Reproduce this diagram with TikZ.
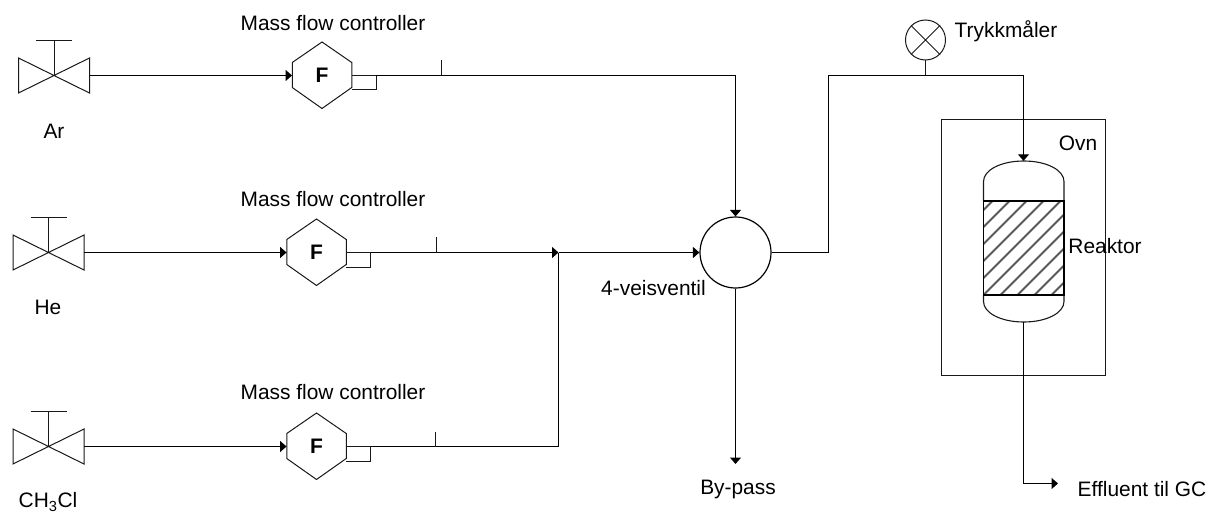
\documentclass[tikz,border=0pt]{standalone}
\usepackage{fontspec}
\setmainfont{Liberation Sans}
\usetikzlibrary{arrows.meta}
\tikzset{
  x=1pt,y=-1pt,
  pipe/.style={line width=1.25pt,draw=black},
  thin line/.style={line width=1pt,draw=black!90},
  flow/.style={pipe,-{Triangle[length=6.5pt,width=11pt]}},
  lbl/.style={font=\fontsize{20.9}{24}\selectfont,inner sep=0pt},
  valvebox/.style={minimum width=71pt,minimum height=35pt,inner sep=0pt},
  hexbox/.style={minimum width=59.5pt,minimum height=66pt,inner sep=0pt,font=\fontsize{21}{24}\selectfont\bfseries}
}
\newcommand{\valvesym}[2]{%
  \draw[thin line,shift={(#1,#2)}] (-35.5,-17.5)--(35.5,17.5)--(35.5,-17.5)--(-35.5,17.5)--cycle;
  \draw[thin line,shift={(#1,#2)}] (0,0)--(0,-35) (-18,-35)--(18,-35);
}
\newcommand{\hexsym}[2]{%
  \draw[thin line,shift={(#1,#2)}] (0,-33.5)--(29.75,-13)--(29.75,12)--(0,33)--(-29.75,12)--(-29.75,-13)--cycle;
  \draw[thin line,shift={(#1,#2)}] (29.75,0)--(54,0)--(54,14.5)--(29.75,14.5);
}
\begin{document}
\begin{tikzpicture}
\useasboundingbox (0,0) rectangle (1207,513);
% oven
\node[draw=black!90,line width=1pt,minimum width=163.5pt,minimum height=255pt,inner sep=0pt] (ovn) at (1023.25,247.5) {};
% valves
\valvesym{54}{75.5}
\valvesym{48.5}{252.5}
\valvesym{48.5}{446.5}
\node[valvebox] (v1) at (54,75.5) {};
\node[valvebox] (v2) at (48.5,252.5) {};
\node[valvebox] (v3) at (48.5,446.5) {};
% mass flow controllers
\hexsym{322}{75.5}
\hexsym{316.5}{252.5}
\hexsym{316.5}{446.5}
\node[hexbox] (f1) at (322,75.5) {F};
\node[hexbox] (f2) at (316.5,252.5) {F};
\node[hexbox] (f3) at (316.5,446.5) {F};
% four-way valve
\node[circle,draw=black,line width=1.2pt,minimum size=71pt,inner sep=0pt] (w) at (735.5,252.5) {};
% pressure gauge
\node[circle,draw=black!90,line width=1pt,minimum size=40pt,inner sep=0pt] (p) at (925.5,40) {};
\draw[thin line] (p.north west)--(p.south east) (p.north east)--(p.south west);
% reactor
\node[minimum width=80.5pt,minimum height=161pt,inner sep=0pt] (r) at (1023.5,241.5) {};
\begin{scope}
  \clip (983.5,201) rectangle (1064,295);
  \foreach \k in {-6,...,12} {
    \draw[line width=2pt,draw=black!65] (983.5+\k*17,295)--(983.5+\k*17+94,201);
  }
\end{scope}
\draw[thin line,line width=1.1pt] (983.5,201)--(983.5,181.5) .. controls (983.5,170) and (1001,161) .. (1023.75,161) .. controls (1046.5,161) and (1064,170) .. (1064,181.5)--(1064,201);
\draw[thin line,line width=1.1pt] (983.5,295)--(983.5,301.5) .. controls (983.5,313) and (1001,322) .. (1023.75,322) .. controls (1046.5,322) and (1064,313) .. (1064,301.5)--(1064,295);
\draw[line width=1.1pt,draw=black] (983.5,201) rectangle (1064,295);
% junctions
\coordinate (c1) at (735.5,75.5);
\coordinate (t1) at (441.5,75.5);
\coordinate (t1top) at (441.5,60);
\coordinate (t2) at (436.5,252.5);
\coordinate (t2top) at (436.5,237);
\coordinate (t3) at (435.5,446.5);
\coordinate (t3top) at (435.5,432);
\coordinate (s1) at (376,75.5);
\coordinate (s2) at (370.5,252.5);
\coordinate (s3) at (370.5,446.5);
\coordinate (j) at (558.5,252.5);
\coordinate (j3) at (558.5,446.5);
\coordinate (a) at (828.5,252.5);
\coordinate (b) at (828.5,75.5);
\coordinate (g) at (925.5,75.5);
\coordinate (d) at (1023.5,75.5);
\coordinate (bp) at (735.5,464);
\coordinate (e1) at (1023.5,483.5);
\coordinate (e2) at (1058,483.5);
% connectors
\draw[flow] (v1.east) -- (f1.west);
\draw[flow] (v2.east) -- (f2.west);
\draw[flow] (v3.east) -- (f3.west);
\draw[flow] (s1) -- (c1) -- (w.north);
\draw[flow] (s2) -- (j);
\draw[flow] (j) -- (w.west);
\draw[pipe] (s3) -- (j3) -- (j);
\draw[thin line] (t1) -- (t1top);
\draw[thin line] (t2) -- (t2top);
\draw[thin line] (t3) -- (t3top);
\draw[pipe] (w.east) -- (a) -- (b) -- (g);
\draw[flow] (g) -- (d) -- (r.north);
\draw[thin line] (p.south) -- (g);
\draw[flow] (w.south) -- (bp);
\draw[flow] (r.south) -- (e1) -- (e2);
% labels
\node[lbl] (m1) at (333,23.5) {Mass flow controller};
\node[lbl] (m2) at (333,199.5) {Mass flow controller};
\node[lbl] (m3) at (333,392) {Mass flow controller};
\node[lbl] (l1) at (54,131) {Ar};
\node[lbl] (l2) at (48,307) {He};
\node[lbl] (l3) at (48,502) {CH\textsubscript{3}Cl};
\node[lbl] (l4) at (653.5,288.5) {4-veisventil};
\node[lbl] (l5) at (738,489.5) {By-pass};
\node[lbl] (l6) at (1006,31) {Trykkmåler};
\node[lbl] (l7) at (1078,143.5) {Ovn};
\node[lbl] (l8) at (1105,246) {Reaktor};
\node[lbl] (l9) at (1142,489.5) {Effluent til GC};
\end{tikzpicture}
\end{document}
